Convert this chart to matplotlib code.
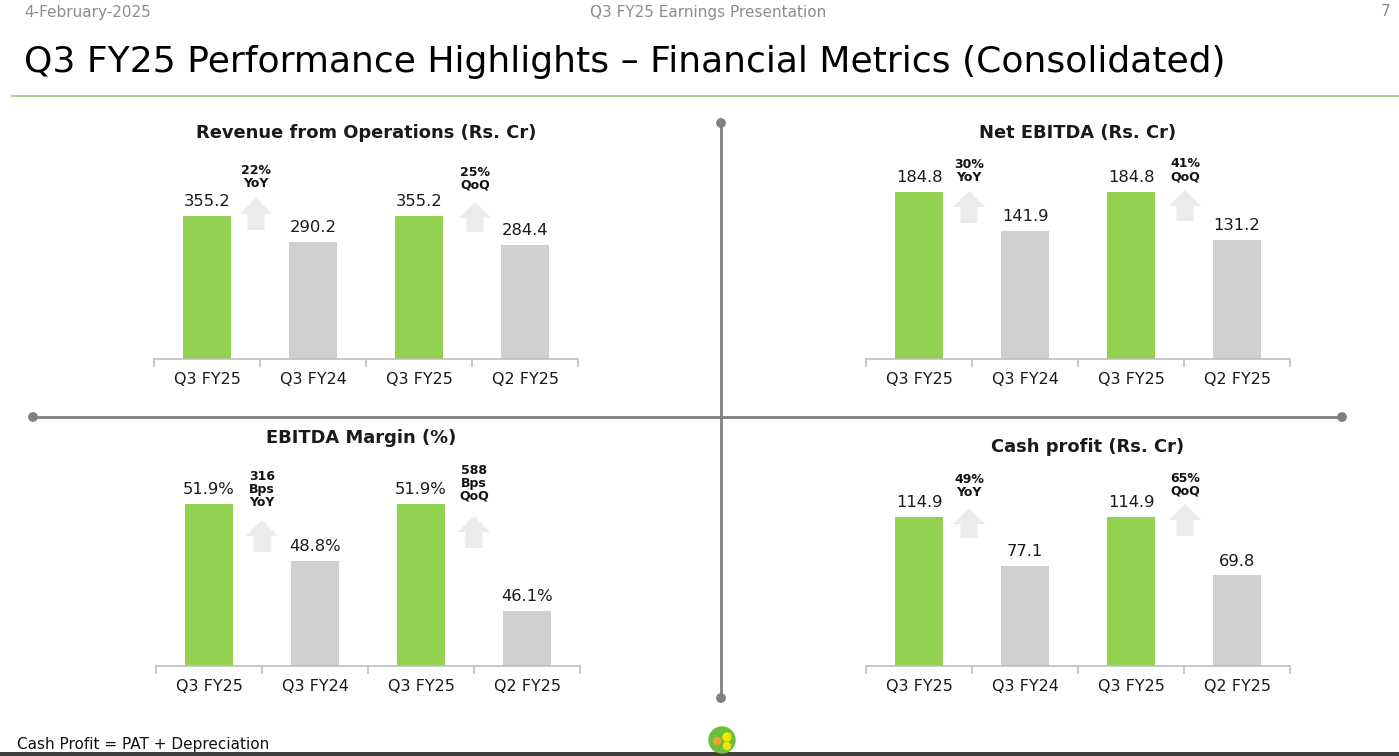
import matplotlib
matplotlib.use("Agg")
import matplotlib.pyplot as plt
from matplotlib.patches import Polygon, Circle

plt.rcParams['font.family'] = ['DejaVu Sans']

W, H = 1399, 756
categories = ["Q3 FY25", "Q3 FY24", "Q3 FY25", "Q2 FY25"]

revenue = [355.2, 290.2, 355.2, 284.4]
ebitda = [184.8, 141.9, 184.8, 131.2]
margin = [51.9, 48.8, 51.9, 46.1]
cash = [114.9, 77.1, 114.9, 69.8]

revenue_labels = ["355.2", "290.2", "355.2", "284.4"]
ebitda_labels = ["184.8", "141.9", "184.8", "131.2"]
margin_labels = ["51.9%", "48.8%", "51.9%", "46.1%"]
cash_labels = ["114.9", "77.1", "114.9", "69.8"]

revenue_growth = ["22%\nYoY", "25%\nQoQ"]
ebitda_growth = ["30%\nYoY", "41%\nQoQ"]
margin_growth = ["316\nBps\nYoY", "588\nBps\nQoQ"]
cash_growth = ["49%\nYoY", "65%\nQoQ"]

GREEN = "#92d050"
GREY = "#d0cece"
ARROW = "#ebebeb"
LINE = "#808080"

fig = plt.figure(figsize=(W / 100, H / 100), dpi=100)

# overlay axes in pixel coords
ov = fig.add_axes([0, 0, 1, 1], zorder=0)
ov.set_xlim(0, W)
ov.set_ylim(H, 0)
ov.axis("off")


def px_axes(x0, x1, ytop, ybase):
    return fig.add_axes([x0 / W, 1 - ybase / H, (x1 - x0) / W, (ybase - ytop) / H], zorder=2)


def panel(x0, x1, ytop, ybase, vals, labels, ylim):
    ax = px_axes(x0, x1, ytop, ybase)
    ax.patch.set_alpha(0)
    xs = list(range(len(vals)))
    ax.bar(xs, vals, width=0.46, color=[GREEN, GREY, GREEN, GREY], zorder=2)
    ax.set_xlim(-0.5, len(vals) - 0.5)
    ax.set_ylim(*ylim)
    for x, v, l in zip(xs, vals, labels):
        ax.annotate(l, (x, v), xytext=(0, 5), textcoords="offset points",
                    ha="center", va="bottom", fontsize=11.8, color="#1a1a1a")
    for s in ["top", "right", "left"]:
        ax.spines[s].set_visible(False)
    ax.spines["bottom"].set_color("#bfbfbf")
    ax.spines["bottom"].set_linewidth(1.2)
    ax.set_yticks([])
    ax.set_xticks([-0.5, 0.5, 1.5, 2.5, 3.5])
    ax.set_xticklabels([])
    ax.set_xticks(xs, minor=True)
    ax.set_xticklabels(categories, minor=True)
    ax.tick_params(axis="x", which="major", length=6, width=1.2, color="#bfbfbf", direction="out")
    ax.tick_params(axis="x", which="minor", length=0, pad=9.5, labelsize=11.5, labelcolor="#1a1a1a")
    return ax


panel(154, 578, 140, 359, revenue, revenue_labels, (0, 544.0))
panel(866, 1290, 140, 359, ebitda, ebitda_labels, (0, 242.3))
panel(156, 580, 450, 666, margin, margin_labels, (43.09, 54.84))
panel(866, 1290, 450, 666, cash, cash_labels, (0, 166.5))

# panel titles
titles = [("Revenue from Operations (Rs. Cr)", 366, 133),
          ("Net EBITDA (Rs. Cr)", 1078, 133),
          ("EBITDA Margin (%)", 361, 438),
          ("Cash profit (Rs. Cr)", 1088, 447)]
for t, x, y in titles:
    ov.text(x, y, t, ha="center", va="center", fontsize=12.9, fontweight="bold", color="#1a1a1a")


def up_arrow(cx, ytop, ybot):
    hw, sw, hh = 16, 8.5, 16
    pts = [(cx, ytop), (cx + hw, ytop + hh), (cx + sw, ytop + hh), (cx + sw, ybot),
           (cx - sw, ybot), (cx - sw, ytop + hh), (cx - hw, ytop + hh)]
    ov.add_patch(Polygon(pts, closed=True, facecolor=ARROW, edgecolor="none"))


arrows = [
    (256, 198, 230, revenue_growth[0], 177),
    (475, 202, 232, revenue_growth[1], 179),
    (969, 191, 223, ebitda_growth[0], 171),
    (1185, 190, 221, ebitda_growth[1], 170),
    (262, 520, 552, margin_growth[0], 490),
    (474, 516, 548, margin_growth[1], 483),
    (969, 508, 538, cash_growth[0], 486),
    (1185, 504, 536, cash_growth[1], 485),
]
for cx, yt, yb, txt, ty in arrows:
    up_arrow(cx, yt, yb)
    ov.text(cx, ty, txt, ha="center", va="center", fontsize=9, fontweight="bold",
            color="#111111", linespacing=1.0)

# separators
ov.plot([721, 721], [123, 698], color=LINE, lw=2, solid_capstyle="butt")
ov.plot([33, 1342], [417, 417], color=LINE, lw=2, solid_capstyle="butt")
for (x, y) in [(721, 123), (721, 698), (33, 417), (1342, 417)]:
    ov.add_patch(Circle((x, y), 4.2, color=LINE))

# header
ov.text(24, 12, "4-February-2025", ha="left", va="center", fontsize=11, color="#8c8c8c")
ov.text(708, 12, "Q3 FY25 Earnings Presentation", ha="center", va="center", fontsize=11, color="#8c8c8c")
ov.text(1386, 12, "7", ha="center", va="center", fontsize=11, color="#8c8c8c")
ov.text(24, 62, "Q3 FY25 Performance Highlights \u2013 Financial Metrics (Consolidated)",
        ha="left", va="center", fontsize=26, color="#000000")
ov.plot([12, 1399], [96, 96], color="#a9d18e", lw=1.5)

# footer
ov.text(17, 744, "Cash Profit = PAT + Depreciation", ha="left", va="center", fontsize=11, color="#111111")
ov.add_patch(Polygon([(0, 752), (W, 752), (W, H), (0, H)], closed=True, facecolor="#3f3f3f", edgecolor="none"))
# small logo
ov.add_patch(Circle((722, 740), 13, color="#6abf3f"))
ov.add_patch(Circle((727, 737), 4, color="#f2e600"))
ov.add_patch(Circle((717, 741), 3.5, color="#f0a030"))
ov.add_patch(Circle((727, 746), 3.5, color="#f2e600"))

fig.savefig("out.png", dpi=100)
